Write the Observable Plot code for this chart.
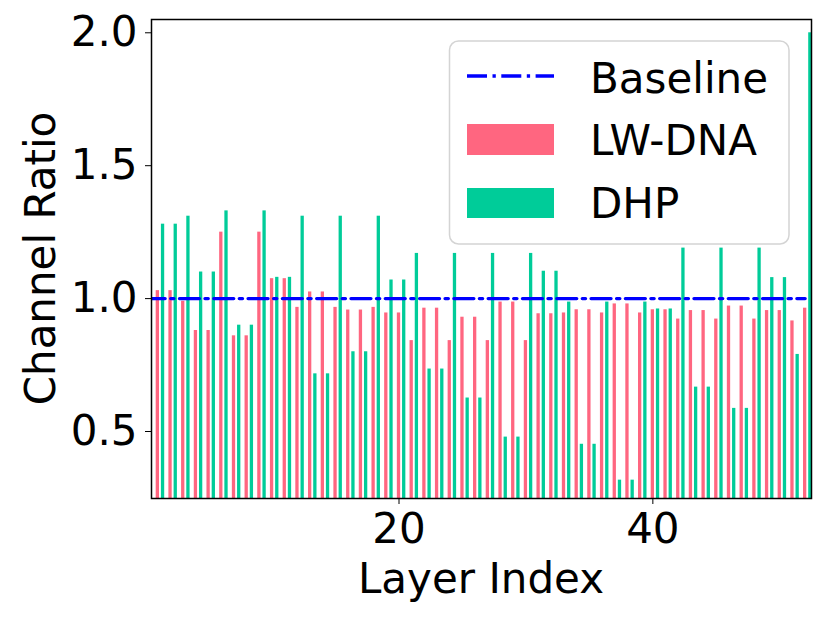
<!DOCTYPE html>
<html>
<head>
<meta charset="utf-8">
<script src="https://cdn.jsdelivr.net/npm/d3@7"></script>
<script src="https://cdn.jsdelivr.net/npm/@observablehq/plot@0.6"></script>
<style>
  html, body { margin: 0; padding: 0; background: #fff; }
  #chart { width: 830px; height: 623px; }
</style>
</head>
<body>
<div id="chart"></div>
<script>
const layers = [1,2,3,4,5,6,7,8,9,10,11,12,13,14,15,16,17,18,19,20,21,22,23,24,25,26,27,28,29,30,31,32,33,34,35,36,37,38,39,40,41,42,43,44,45,46,47,48,49,50,51,52];
const lwdna = [1.03,1.03,0.99,0.88,0.88,1.25,0.86,0.86,1.25,1.075,
  1.075,0.967,1.025,1.025,0.967,0.957,0.957,0.967,0.946,0.946,
  0.842,0.964,0.964,0.842,0.93,0.93,0.842,0.987,0.987,0.842,
  0.943,0.943,0.946,0.958,0.958,0.946,0.98,0.98,0.946,0.958,
  0.958,0.923,0.955,0.955,0.923,0.972,0.972,0.923,0.955,0.955,
  0.916,0.964];
const dhp = [1.28,1.28,1.31,1.10,1.10,1.33,0.90,0.90,1.33,1.08,
  1.08,1.31,0.717,0.717,1.31,0.80,0.80,1.31,1.07,1.07,
  1.17,0.735,0.735,1.17,0.626,0.626,1.17,0.479,0.479,1.17,
  1.103,1.103,0.987,0.452,0.452,0.987,0.317,0.317,0.987,0.961,
  0.961,1.19,0.667,0.667,1.19,0.587,0.587,1.19,1.079,1.079,
  0.79,2.0];
const baselineValue = 1.0;
const baselineX = [0, 52];
const yTicks = [0.5, 1.0, 1.5, 2.0];
const xTicks = [20, 40];
const seriesNames = ["Baseline", "LW-DNA", "DHP"];
const colors = { "LW-DNA": "#ff6680", "DHP": "#00cc99", "Baseline": "#0000ff" };

const barW = 0.26, dhpOffset = 0.41;
const rows = layers.flatMap((l, i) => [
  { layer: l, series: "LW-DNA", value: lwdna[i], c: l },
  { layer: l, series: "DHP", value: dhp[i], c: l + dhpOffset }
]);
const baseRows = baselineX.map(x => ({ x, y: baselineValue }));

const font = "DejaVu Sans, sans-serif";
const W = 830, H = 623;
const mL = 151, mR = 19, mT = 19, mB = 125;

const chart = Plot.plot({
  width: W, height: H,
  marginLeft: mL, marginRight: mR, marginTop: mT, marginBottom: mB,
  style: { fontFamily: font, fontSize: "42px", background: "#fff", color: "#000" },
  x: { domain: [0.5, 52.5], label: null },
  y: { domain: [0.248, 2.05], label: null },
  marks: [
    Plot.rectY(rows, {
      x1: d => d.c - barW / 2, x2: d => d.c + barW / 2,
      y1: 0, y2: "value",
      fill: d => colors[d.series], clip: true
    }),
    Plot.lineY(baseRows, {
      x: "x", y: "y", stroke: colors.Baseline, strokeWidth: 3.3,
      strokeDasharray: "20,5.5,3.3,5.5", clip: true
    }),
    Plot.axisY({ ticks: yTicks, tickFormat: d3.format(".1f"), tickSize: 6, tickPadding: 8, label: null, fontSize: 42 }),
    Plot.axisX({ ticks: xTicks, tickFormat: d3.format("d"), tickSize: 6, tickPadding: 9, label: null, fontSize: 42 }),
    Plot.frame({ stroke: "#000", strokeWidth: 1.5 })
  ]
});

document.getElementById("chart").appendChild(chart);

const svg = d3.select(chart);
// axis titles
svg.append("text")
  .attr("x", (mL + W - mR) / 2).attr("y", 593)
  .attr("text-anchor", "middle")
  .style("font-family", font).style("font-size", "42px").attr("fill", "#000")
  .text("Layer Index");
svg.append("text")
  .attr("transform", `translate(55,${(mT + H - mB) / 2}) rotate(-90)`)
  .attr("text-anchor", "middle")
  .style("font-family", font).style("font-size", "42px").attr("fill", "#000")
  .text("Channel Ratio");

// legend
const lg = svg.append("g");
lg.append("rect")
  .attr("x", 449.5).attr("y", 41).attr("width", 339.5).attr("height", 203)
  .attr("rx", 9).attr("fill", "#fff").attr("fill-opacity", 0.85)
  .attr("stroke", "#d4d4d4").attr("stroke-width", 1.5);
const items = [
  { name: seriesNames[0], y: 93 },
  { name: seriesNames[1], y: 155 },
  { name: seriesNames[2], y: 218 }
];
lg.append("line")
  .attr("x1", 467).attr("x2", 554).attr("y1", 76).attr("y2", 76)
  .attr("stroke", colors.Baseline).attr("stroke-width", 3.3)
  .attr("stroke-dasharray", "20,5.5,3.3,5.5");
lg.append("rect").attr("x", 467).attr("y", 124).attr("width", 87).attr("height", 31).attr("fill", colors["LW-DNA"]);
lg.append("rect").attr("x", 467).attr("y", 188).attr("width", 87).attr("height", 30).attr("fill", colors["DHP"]);
items.forEach(it => {
  lg.append("text").attr("x", 590).attr("y", it.y)
    .attr("text-anchor", "start")
    .style("font-family", font).style("font-size", "42px").attr("fill", "#000")
    .text(it.name);
});
</script>
</body>
</html>
